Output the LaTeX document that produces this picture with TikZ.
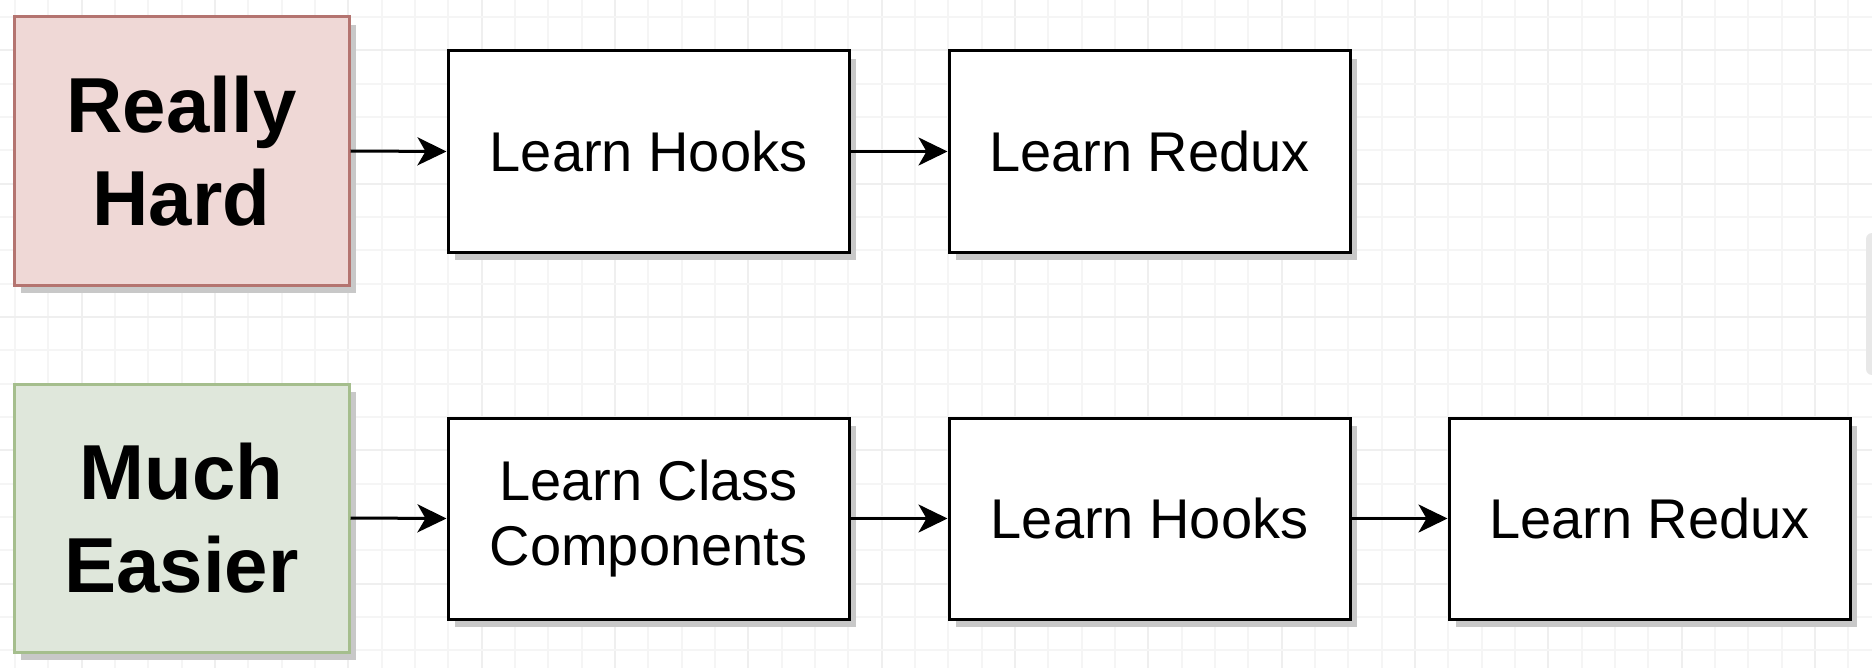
\documentclass[tikz,border=0pt]{standalone}
\usepackage{fontspec}
\setmainfont{Liberation Sans}
\usetikzlibrary{arrows.meta,shadows}
\definecolor{hardfill}{RGB}{239,216,214}
\definecolor{harddraw}{RGB}{180,116,112}
\definecolor{easyfill}{RGB}{223,231,219}
\definecolor{easydraw}{RGB}{165,190,141}
\definecolor{gridminor}{RGB}{245,245,245}
\definecolor{gridmajor}{RGB}{239,239,239}
\definecolor{shadowgray}{RGB}{200,200,200}
\tikzset{
  shadowed/.style={drop shadow={shadow xshift=3.5pt, shadow yshift=-4pt, fill=shadowgray, opacity=1}},
  stepbox/.style={draw=black, line width=1.5pt, fill=white, minimum width=200.5pt, minimum height=100.5pt,
    inner sep=0pt, align=center, font=\fontsize{28}{32.5}\selectfont, shadowed},
  levelbox/.style={line width=1.5pt, minimum width=167.5pt, minimum height=134pt,
    inner sep=0pt, align=center, font=\fontsize{39}{46.5}\selectfont\bfseries, shadowed},
  hardbox/.style={levelbox, draw=harddraw, fill=hardfill},
  easybox/.style={levelbox, draw=easydraw, fill=easyfill},
  conn/.style={draw=black, line width=1.5pt, -{Stealth[length=14.5pt, width=14pt, inset=4pt]}},
}
\begin{document}
\begin{tikzpicture}[x=0.5pt, y=-0.5pt]
\useasboundingbox (0,0) rectangle (1872,668);
\fill[white] (0,0) rectangle (1872,668);
% grid
\foreach \i in {0,...,55} {
  \pgfmathtruncatemacro{\m}{mod(\i,4)}
  \ifnum\m=2
    \draw[gridmajor, line width=1pt] ({15+33.333*\i},0) -- ({15+33.333*\i},668);
  \else
    \draw[gridminor, line width=1pt] ({15+33.333*\i},0) -- ({15+33.333*\i},668);
  \fi
}
\foreach \j in {0,...,19} {
  \pgfmathtruncatemacro{\m}{mod(\j,4)}
  \ifnum\m=1
    \draw[gridmajor, line width=1pt] (0,{17+33.333*\j}) -- (1872,{17+33.333*\j});
  \else
    \draw[gridminor, line width=1pt] (0,{17+33.333*\j}) -- (1872,{17+33.333*\j});
  \fi
}
% scrollbar
\fill[gray!18, rounded corners=3pt] (1866,233) rectangle (1880,375);

% top row
\node[hardbox] (rh) at (181.5,151) {Really\\Hard};
\node[stepbox] (h1) at (648.5,151.5) {Learn Hooks};
\node[stepbox] (r1) at (1149.5,151.5) {Learn Redux};
% bottom row
\node[easybox] (me) at (181.5,518) {Much\\Easier};
\node[stepbox] (cc) at (648.5,518.5) {Learn Class\\Components};
\node[stepbox] (h2) at (1149.5,518.5) {Learn Hooks};
\node[stepbox] (r2) at (1649.5,518.5) {Learn Redux};

\draw[conn] (rh.east) -- (h1.west);
\draw[conn] (h1.east) -- (r1.west);
\draw[conn] (me.east) -- (cc.west);
\draw[conn] (cc.east) -- (h2.west);
\draw[conn] (h2.east) -- (r2.west);
\end{tikzpicture}
\end{document}
